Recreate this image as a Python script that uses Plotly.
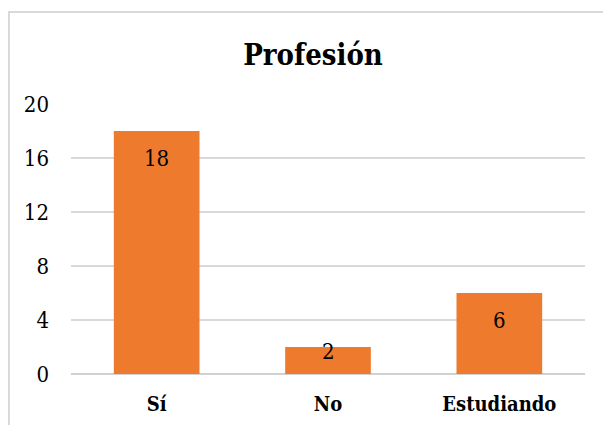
import plotly.graph_objects as go

categories = ["Sí", "No", "Estudiando"]
values = [18, 2, 6]
y_ticks = [0, 4, 8, 12, 16, 20]

W, H = 603, 425
ml, mr, mt, mb = 71, 18, 104, 51
pw, ph = W - ml - mr, H - mt - mb
y_max = 20
px_per_unit = ph / y_max

def px_to_paper_x(px):
    return (px - ml) / pw

def px_to_paper_y(py):
    return (H - mb - py) / ph

serif = "'DejaVu Serif Condensed', 'DejaVu Serif', serif"

fig = go.Figure()
fig.add_trace(go.Bar(
    x=categories, y=values,
    marker=dict(color="#EE7A2E", line=dict(width=0)),
    hoverinfo="x+y",
))

annotations = []
for c, v in zip(categories, values):
    bar_px = v * px_per_unit
    shift = -min(27, bar_px - 23)
    annotations.append(dict(x=c, y=v, xref="x", yref="y", text=str(v),
                            showarrow=False, yanchor="middle", xanchor="center",
                            yshift=shift,
                            font=dict(family=serif, size=22, color="black")))

fig.update_layout(
    width=W, height=H,
    margin=dict(l=ml, r=mr, t=mt, b=mb, autoexpand=False),
    paper_bgcolor="white", plot_bgcolor="white",
    bargap=0.5,
    showlegend=False,
    annotations=annotations,
    title=dict(text="<b>Profesión</b>", x=313 / W, xanchor="center",
               y=1 - 55 / H, yanchor="middle",
               font=dict(family=serif, size=29, color="black")),
    font=dict(family=serif, color="black"),
    xaxis=dict(showgrid=False, showline=False, ticks="", automargin=False,
               tickfont=dict(family=serif, size=20, color="black"),
               ticklabelstandoff=16,
               tickprefix="<b>", ticksuffix="</b>"),
    yaxis=dict(range=[0, y_max], tickvals=y_ticks, showgrid=True,
               automargin=False,
               gridcolor="#d9d9d9", gridwidth=1.5,
               zeroline=True, zerolinecolor="#d0d0d0", zerolinewidth=2,
               showline=False, ticks="",
               tickfont=dict(family=serif, size=22, color="black"),
               ticklabelstandoff=21),
    shapes=[dict(type="rect", xref="paper", yref="paper",
                 x0=px_to_paper_x(9), x1=px_to_paper_x(640),
                 y0=px_to_paper_y(460), y1=px_to_paper_y(12),
                 line=dict(color="#d9d9d9", width=2), layer="below")],
)

fig.write_html("out.html")
